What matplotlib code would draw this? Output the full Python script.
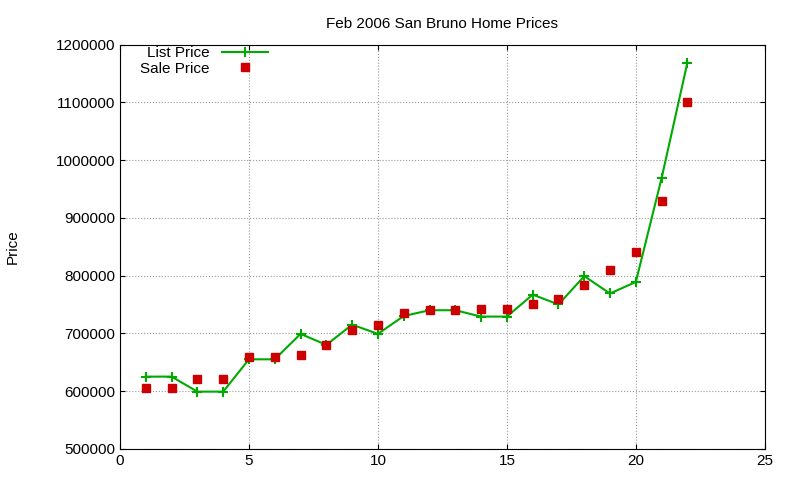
import matplotlib
matplotlib.use("Agg")
import matplotlib.pyplot as plt

x = list(range(1, 23))
list_price = [625000, 625000, 599000, 599000, 655000, 655000, 699000, 680000, 715000, 699000,
              730000, 740000, 740000, 729000, 729000, 767000, 750000, 799000, 769000, 789000,
              969000, 1169000]
sale_price = [605000, 605000, 621000, 621000, 659000, 659000, 663000, 679000, 705000, 715000,
              735000, 740000, 740000, 742000, 742000, 750000, 760000, 784000, 810000, 840000,
              930000, 1100000]

plt.rcParams['font.family'] = ['Liberation Sans', 'DejaVu Sans']
fig = plt.figure(figsize=(8, 4.8), dpi=100)
ax = fig.add_axes([0.15, 0.065, 0.806, 0.842])
ax.plot(x, list_price, color='#00aa00', marker='+', markersize=7, markeredgewidth=1.5,
        linewidth=1.5, label='List Price')
ax.plot(x, sale_price, color='#cc0000', marker='s', markersize=6, linestyle='none', label='Sale Price')
ax.set_xlim(0, 25)
ax.set_ylim(500000, 1200000)
ax.set_xticks(range(0, 26, 5))
ax.set_yticks(range(500000, 1200001, 100000))
ax.set_yticklabels([str(v) for v in range(500000, 1200001, 100000)])
ax.grid(True, color='#999999', linestyle=':', linewidth=0.8)
ax.tick_params(direction='in', labelsize=11, top=True, right=True)
ax.set_ylabel('Price', fontsize=11, labelpad=26)
ax.set_title('Feb 2006 San Bruno Home Prices', fontsize=11, pad=12)
leg = ax.legend(loc='upper left', frameon=False, fontsize=11, markerfirst=False,
                bbox_to_anchor=(0.01, 1.03), handlelength=3, labelspacing=0.1)
fig.savefig('out.png', dpi=100)
